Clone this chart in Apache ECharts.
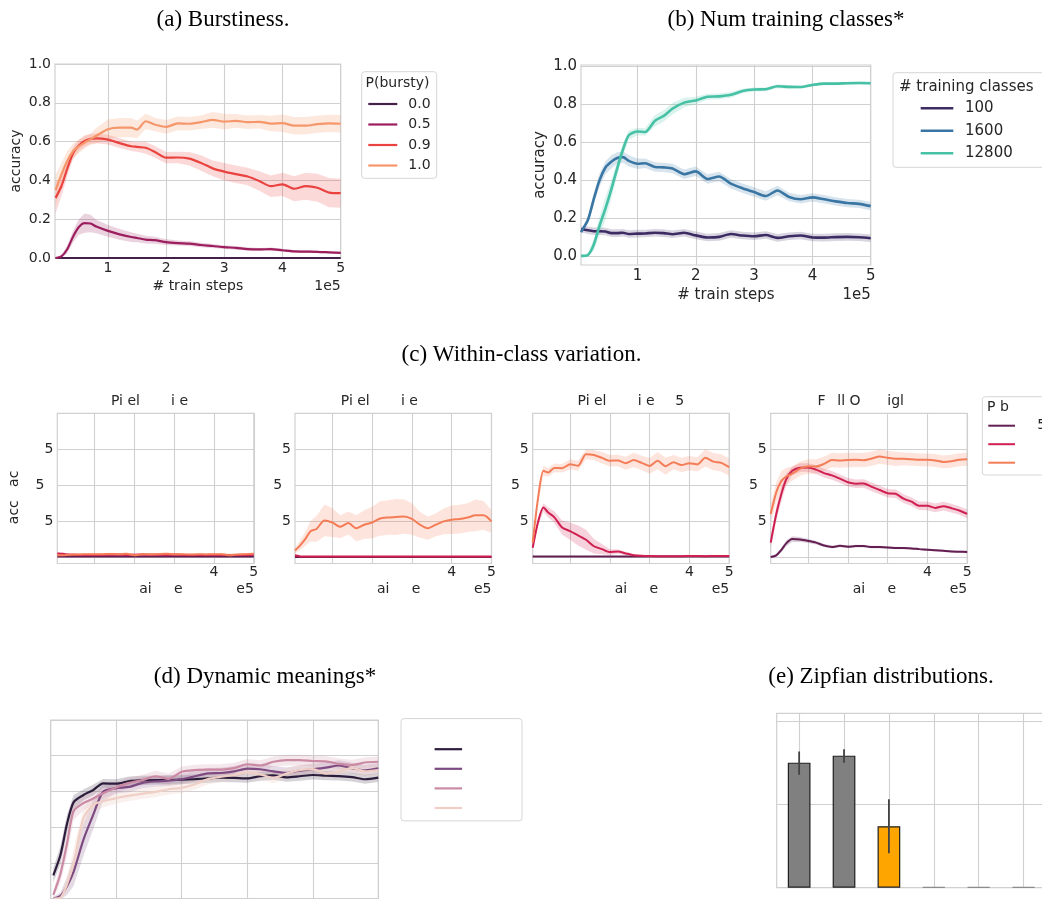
<!DOCTYPE html>
<html>
<head>
<meta charset="utf-8">
<title>In-context learning figure</title>
<script src="https://cdn.jsdelivr.net/npm/echarts@6.0.0/dist/echarts.min.js"></script>
<style>
html,body{margin:0;padding:0;background:#ffffff;}
#chart{width:1042px;height:899px;}
</style>
</head>
<body>
<div id="chart"></div>
<script>
// ================= DATA =================
// (a) Burstiness  (x in units of 1e5 train steps)
const aSteps = [0.1,0.2,0.3,0.4,0.5,0.6,0.7,0.8,1.0,1.2,1.4,1.5,1.65,1.8,2.0,2.2,2.4,2.6,2.8,3.0,3.2,3.4,3.6,3.8,4.0,4.2,4.4,4.6,4.8,5.0];
const aNames = ['0.0','0.5','0.9','1.0'];
const aBursty00 = [0,0,0,0,0,0,0,0,0,0,0,0,0,0,0,0,0,0,0,0,0,0,0,0,0,0,0,0,0,0];
const aBursty05 = [0.0,0.008,0.045,0.11,0.16,0.18,0.178,0.162,0.14,0.122,0.108,0.103,0.095,0.092,0.082,0.077,0.074,0.067,0.062,0.056,0.052,0.046,0.044,0.046,0.04,0.034,0.033,0.032,0.029,0.026];
const aBursty05Ci = [0.002,0.008,0.02,0.03,0.04,0.05,0.045,0.035,0.03,0.028,0.025,0.022,0.02,0.018,0.015,0.013,0.012,0.011,0.01,0.01,0.01,0.009,0.008,0.008,0.008,0.007,0.007,0.006,0.006,0.006];
const aBursty09 = [0.31,0.37,0.46,0.54,0.58,0.603,0.614,0.617,0.61,0.592,0.576,0.573,0.568,0.548,0.517,0.518,0.512,0.49,0.462,0.445,0.432,0.42,0.397,0.37,0.38,0.357,0.37,0.362,0.337,0.334];
const aBursty09Ci = [0.08,0.05,0.04,0.03,0.03,0.03,0.025,0.025,0.025,0.025,0.025,0.025,0.03,0.03,0.03,0.03,0.035,0.04,0.04,0.045,0.045,0.045,0.05,0.055,0.06,0.065,0.07,0.072,0.075,0.075];
const aBursty10 = [0.35,0.43,0.50,0.55,0.575,0.595,0.612,0.63,0.664,0.672,0.672,0.662,0.705,0.688,0.676,0.694,0.692,0.700,0.712,0.703,0.707,0.700,0.702,0.693,0.695,0.682,0.682,0.690,0.694,0.692];
const aBursty10Ci = [0.08,0.06,0.05,0.04,0.035,0.03,0.03,0.04,0.05,0.05,0.05,0.045,0.04,0.035,0.035,0.035,0.035,0.035,0.04,0.04,0.035,0.035,0.035,0.04,0.045,0.045,0.045,0.045,0.045,0.045];

// (b) Num training classes
const bSteps = [0.03,0.15,0.25,0.35,0.45,0.55,0.65,0.75,0.85,1.0,1.13,1.3,1.45,1.6,1.8,2.0,2.2,2.4,2.6,2.8,3.0,3.2,3.4,3.6,3.8,4.0,4.2,4.4,4.6,4.8,5.0];
const bNames = ['100','1600','12800'];
const bClasses100 = [0.14,0.135,0.13,0.13,0.128,0.12,0.12,0.122,0.115,0.117,0.118,0.122,0.12,0.114,0.122,0.108,0.097,0.1,0.115,0.107,0.103,0.11,0.095,0.103,0.107,0.097,0.096,0.099,0.1,0.098,0.093];
const bClasses100Ci = [0.015,0.02,0.02,0.02,0.02,0.02,0.02,0.02,0.02,0.02,0.02,0.02,0.02,0.02,0.02,0.02,0.02,0.02,0.02,0.02,0.02,0.02,0.02,0.02,0.02,0.02,0.02,0.02,0.02,0.02,0.02];
const bClasses1600 = [0.125,0.19,0.3,0.4,0.465,0.495,0.515,0.52,0.5,0.485,0.488,0.468,0.466,0.46,0.43,0.445,0.405,0.418,0.38,0.356,0.336,0.315,0.344,0.31,0.298,0.308,0.298,0.287,0.278,0.274,0.262];
const bClasses1600Ci = [0.01,0.02,0.03,0.035,0.035,0.035,0.03,0.03,0.03,0.028,0.025,0.025,0.025,0.025,0.025,0.025,0.025,0.025,0.025,0.025,0.025,0.025,0.025,0.022,0.022,0.022,0.022,0.022,0.022,0.022,0.022];
const bClasses12800 = [0.0,0.005,0.06,0.16,0.25,0.35,0.46,0.56,0.635,0.655,0.652,0.712,0.737,0.775,0.807,0.818,0.838,0.84,0.848,0.868,0.876,0.877,0.893,0.89,0.889,0.9,0.907,0.907,0.909,0.91,0.909];
const bClasses12800Ci = [0.003,0.01,0.03,0.05,0.06,0.05,0.04,0.03,0.025,0.02,0.02,0.03,0.03,0.03,0.025,0.02,0.015,0.015,0.015,0.012,0.01,0.01,0.01,0.01,0.008,0.008,0.008,0.008,0.008,0.008,0.008];

// (c) Within-class variation, four sub-panels, three series each
const cSteps = [0.06,0.2,0.33,0.45,0.6,0.8,1.0,1.2,1.4,1.6,1.8,2.0,2.2,2.4,2.6,2.8,3.0,3.2,3.4,3.6,3.8,4.0,4.2,4.4,4.6,4.8,5.0];
const cSeriesNames = ['c05','c09','c10'];
const cLegendLabels = ['\u2007 5',' ',' '];
const cTitles = ['Pi el       i e','Pi el       i e','Pi el       i e    \u20095','F\u2007\u2009ll O      igl'];
const c1Dark = [0.004,0.004,0.004,0.004,0.004,0.004,0.004,0.004,0.004,0.004,0.004,0.004,0.004,0.004,0.004,0.004,0.004,0.004,0.004,0.004,0.004,0.004,0.004,0.004,0.004,0.004,0.004];
const c1Crim = [0.025,0.022,0.018,0.016,0.015,0.015,0.015,0.015,0.016,0.016,0.015,0.016,0.017,0.016,0.016,0.015,0.016,0.015,0.015,0.015,0.015,0.015,0.015,0.015,0.015,0.015,0.016];
const c1Orng = [0.012,0.012,0.015,0.018,0.018,0.019,0.02,0.02,0.021,0.02,0.022,0.013,0.02,0.018,0.02,0.022,0.02,0.02,0.017,0.019,0.018,0.02,0.02,0.012,0.018,0.02,0.022];
const c1Ci = [0.008,0.008,0.008,0.008,0.008,0.008,0.008,0.008,0.008,0.008,0.008,0.008,0.008,0.008,0.008,0.008,0.008,0.008,0.008,0.008,0.008,0.008,0.008,0.008,0.008,0.008,0.008];
const c2Dark = [0.001,0.001,0.001,0.001,0.001,0.001,0.001,0.001,0.001,0.001,0.001,0.001,0.001,0.001,0.001,0.001,0.001,0.001,0.001,0.001,0.001,0.001,0.001,0.001,0.001,0.001,0.001];
const c2Crim = [0.012,0.004,0.003,0.003,0.003,0.003,0.003,0.003,0.003,0.003,0.003,0.003,0.003,0.003,0.003,0.003,0.003,0.003,0.003,0.003,0.003,0.003,0.003,0.003,0.003,0.003,0.003];
const c2Orng = [0.045,0.085,0.13,0.18,0.195,0.255,0.24,0.21,0.236,0.2,0.225,0.24,0.268,0.275,0.278,0.282,0.265,0.225,0.2,0.225,0.248,0.26,0.264,0.275,0.29,0.29,0.248];
const c2OrngCi = [0.02,0.035,0.05,0.07,0.09,0.11,0.1,0.08,0.08,0.09,0.1,0.11,0.12,0.12,0.125,0.12,0.11,0.09,0.08,0.08,0.09,0.1,0.1,0.1,0.11,0.1,0.08];
const c3Dark = [0.003,0.003,0.003,0.003,0.003,0.003,0.003,0.003,0.003,0.003,0.003,0.003,0.003,0.003,0.003,0.003,0.003,0.003,0.003,0.003,0.003,0.003,0.003,0.003,0.003,0.003,0.003];
const c3Crim = [0.065,0.25,0.345,0.31,0.278,0.205,0.18,0.15,0.12,0.075,0.055,0.035,0.038,0.025,0.013,0.009,0.007,0.006,0.006,0.006,0.006,0.008,0.007,0.006,0.007,0.008,0.008];
const c3CrimCi = [0.01,0.03,0.03,0.035,0.04,0.05,0.06,0.07,0.07,0.05,0.035,0.02,0.015,0.012,0.008,0.006,0.005,0.004,0.004,0.004,0.004,0.004,0.004,0.004,0.004,0.004,0.004];
const c3Orng = [0.1,0.42,0.6,0.588,0.62,0.618,0.645,0.635,0.715,0.71,0.69,0.67,0.672,0.653,0.675,0.655,0.634,0.67,0.632,0.66,0.64,0.653,0.645,0.69,0.664,0.655,0.625];
const c3OrngCi = [0.01,0.03,0.035,0.03,0.03,0.03,0.035,0.035,0.035,0.035,0.04,0.04,0.04,0.045,0.05,0.05,0.055,0.06,0.06,0.05,0.05,0.05,0.05,0.06,0.06,0.06,0.06];
const c4Dark = [0.0,0.012,0.05,0.095,0.125,0.122,0.112,0.1,0.08,0.07,0.078,0.072,0.076,0.076,0.069,0.069,0.067,0.063,0.062,0.06,0.055,0.051,0.047,0.043,0.039,0.037,0.035];
const c4DarkCi = [0.005,0.01,0.015,0.02,0.02,0.018,0.015,0.012,0.01,0.01,0.01,0.01,0.01,0.01,0.01,0.01,0.008,0.008,0.008,0.008,0.008,0.008,0.008,0.008,0.008,0.008,0.008];
const c4Crim = [0.1,0.3,0.44,0.54,0.6,0.622,0.623,0.608,0.584,0.568,0.545,0.52,0.51,0.512,0.488,0.466,0.444,0.44,0.406,0.385,0.356,0.356,0.342,0.354,0.34,0.324,0.3];
const c4CrimCi = [0.04,0.05,0.05,0.04,0.03,0.03,0.03,0.03,0.03,0.03,0.03,0.03,0.03,0.03,0.03,0.03,0.03,0.03,0.03,0.03,0.03,0.03,0.03,0.03,0.03,0.03,0.03];
const c4Orng = [0.3,0.45,0.53,0.56,0.58,0.615,0.63,0.63,0.648,0.675,0.672,0.675,0.676,0.674,0.685,0.699,0.69,0.683,0.683,0.68,0.676,0.676,0.672,0.662,0.666,0.677,0.68];
const c4OrngCi = [0.06,0.07,0.07,0.06,0.05,0.05,0.05,0.05,0.05,0.05,0.05,0.05,0.05,0.05,0.05,0.05,0.05,0.05,0.045,0.045,0.045,0.045,0.045,0.045,0.045,0.045,0.045];

// (d) Dynamic meanings
const dSteps = [0.04,0.15,0.25,0.35,0.5,0.65,0.8,1.0,1.2,1.4,1.6,1.8,2.0,2.2,2.4,2.6,2.8,3.0,3.2,3.4,3.6,3.8,4.0,4.2,4.4,4.6,4.8,5.0];
const dSeriesNames = ['d1','d2','d3','d4'];
const dMeaning1 = [0.13,0.245,0.42,0.54,0.58,0.608,0.645,0.643,0.658,0.662,0.664,0.664,0.666,0.669,0.673,0.677,0.676,0.673,0.685,0.69,0.679,0.685,0.692,0.688,0.686,0.68,0.668,0.677];
const dMeaning2 = [0.0,0.015,0.07,0.15,0.33,0.47,0.598,0.618,0.625,0.648,0.656,0.66,0.668,0.685,0.701,0.703,0.712,0.728,0.724,0.712,0.704,0.716,0.724,0.733,0.745,0.73,0.718,0.729];
const dMeaning3 = [0.02,0.14,0.31,0.49,0.535,0.56,0.59,0.622,0.648,0.663,0.685,0.67,0.71,0.72,0.722,0.722,0.73,0.752,0.745,0.766,0.775,0.775,0.77,0.768,0.754,0.748,0.762,0.766];
const dMeaning4 = [0.0,0.005,0.08,0.2,0.45,0.525,0.545,0.562,0.576,0.588,0.597,0.612,0.62,0.64,0.669,0.682,0.692,0.708,0.695,0.676,0.7,0.72,0.725,0.7,0.71,0.732,0.712,0.72];
const dMeaning1Ci = [0.04,0.05,0.05,0.04,0.03,0.03,0.025,0.025,0.025,0.025,0.025,0.025,0.025,0.025,0.025,0.025,0.025,0.025,0.025,0.025,0.025,0.025,0.025,0.025,0.025,0.025,0.025,0.025];
const dMeaning2Ci = [0.01,0.02,0.05,0.08,0.09,0.08,0.05,0.03,0.03,0.03,0.03,0.03,0.03,0.03,0.03,0.03,0.03,0.03,0.03,0.03,0.03,0.03,0.03,0.03,0.03,0.03,0.03,0.03];
const dMeaning3Ci = [0.02,0.05,0.07,0.05,0.04,0.035,0.03,0.03,0.03,0.03,0.03,0.03,0.03,0.03,0.03,0.03,0.03,0.03,0.03,0.03,0.03,0.03,0.03,0.03,0.03,0.03,0.03,0.03];
const dMeaning4Ci = [0.005,0.01,0.04,0.08,0.06,0.04,0.035,0.03,0.03,0.03,0.03,0.03,0.03,0.03,0.03,0.03,0.03,0.03,0.03,0.03,0.03,0.03,0.03,0.03,0.03,0.03,0.03,0.03];
const dLegendLabels = [' ',' ',' ',' '];

// (e) Zipfian distributions (bars + error bars)
const eValues = [0.753,0.795,0.37,0.003,0.003,0.003];
const eColors = ['#808080','#808080','#ffa500','#808080','#808080','#808080'];
const eEdges = ['#1e1e1e','#1e1e1e','#1e1e1e','#8c8c8c','#8c8c8c','#8c8c8c'];
const eErrLow = [0.68,0.753,0.207];
const eErrHigh = [0.82,0.834,0.532];

// tick values / labels
const aXTicks = [1,2,3,4,5], aXLabels = ['1','2','3','4','5'];
const aYTicks = [0,0.2,0.4,0.6,0.8,1.0], aYLabels = ['0.0','0.2','0.4','0.6','0.8','1.0'];
const cXTicks = [1,2,3,4,5], cXLabels = ['','','','4','5'];
const cYTicks = [0,0.25,0.5,0.75,1.0], cYLabels = ['','5','5\u2007','5',''];
const dXTicks = [0,1,2,3,4,5], dYTicks = [0,0.2,0.4,0.6,0.8,1.0];
const eXTicks = [0,1,2,3,4,5], eYTicks = [0,0.5,1.0];

// ================= STYLE / LAYOUT =================
const SANS = 'DejaVu Sans';
const SERIF = 'Liberation Serif';
const TEXT = '#262626';
const GRIDC = '#d0d0d0';
const aColors = ['#45204a','#9c1e5e','#e9423f','#f5966b'];
const bColors = ['#3d2c63','#3a76a3','#46c1a6'];
const cColors = ['#641f52','#d01f51','#f47c56'];
const dColors = ['#2d1d3c','#7d4a81','#cb8aa3','#efcfc6'];
const cLefts = [57.3, 295, 532.7, 770.7], cWidth = 196.5, cTop = 413.3, cHeight = 150.2;

function rgba(hex, a){const n=parseInt(hex.slice(1),16);return 'rgba('+((n>>16)&255)+','+((n>>8)&255)+','+(n&255)+','+a+')';}
function lookup(ticks, labels){return function(v){const i=ticks.findIndex(t=>Math.abs(t-v)<1e-9);return i<0?'':labels[i];};}

const grids=[], xAxes=[], yAxes=[], series=[], legends=[], graphics=[];

function axis(gi, min, max, ticks, labels, fs, margin, extra){
  const ax = {type:'value', gridIndex:gi, min:min, max:max,
    axisLine:{show:false}, axisTick:{show:false, customValues:ticks},
    splitLine:{show:true, lineStyle:{color:GRIDC, width:1.1}},
    minorTick:{show:false}, minorSplitLine:{show:false},
    axisLabel: labels ? {show:true, customValues:ticks, formatter:lookup(ticks,labels), color:TEXT, fontFamily:SANS, fontSize:fs, margin:margin, showMinLabel:true, showMaxLabel:true, hideOverlap:false}
                      : {show:false, customValues:ticks}};
  return Object.assign(ax, extra||{});
}
function grid(left, top, width, height){
  grids.push({left:left, top:top, width:width, height:height, show:true, borderColor:GRIDC, borderWidth:1.2, backgroundColor:'rgba(0,0,0,0)', containLabel:false, outerBoundsMode:'none'});
  return grids.length-1;
}
function addLine(gi, name, xs, ys, color, width){
  series.push({type:'line', name:name, xAxisIndex:gi, yAxisIndex:gi, data:xs.map((x,i)=>[x,ys[i]]), symbol:'none', smooth:0.25,
    lineStyle:{color:color, width:width}, itemStyle:{color:color}, emphasis:{disabled:true}, silent:true, z:3});
}
function addBand(gi, xs, ys, ci, color, alpha){
  const pts = xs.map((x,i)=>[x, ys[i]-ci[i], ys[i]+ci[i]]);
  series.push({type:'custom', xAxisIndex:gi, yAxisIndex:gi, silent:true, z:2, data:pts, encode:{x:0, y:[1,2]},
    renderItem:function(params, api){
      if (params.dataIndex !== 0) return null;
      const up = pts.map(p=>api.coord([p[0],p[2]]));
      const lo = pts.map(p=>api.coord([p[0],p[1]])).reverse();
      const cs = params.coordSys;
      return {type:'polygon', shape:{points:up.concat(lo)}, style:{fill:rgba(color,alpha)},
        clipPath:{type:'rect', shape:{x:cs.x, y:cs.y, width:cs.width, height:cs.height}}};
    }});
}
function text(x, y, str, font, opt){
  graphics.push(Object.assign({type:'text', x:x, y:y, silent:true, z:20,
    style:Object.assign({text:str, font:font, fill:TEXT, align:'left', verticalAlign:'middle'}, (opt&&opt.style)||{})}, (opt&&opt.el)||{}));
}
function box(x, y, w, h){
  graphics.push({type:'rect', silent:true, z:1, shape:{x:x, y:y, width:w, height:h, r:3}, style:{fill:'#ffffff', stroke:'#d6d6d6', lineWidth:1}});
}
function legendLine(w, t){ return 'path://M0,0L'+w+',0L'+w+','+t+'L0,'+t+'Z'; }

// ---------- (a) ----------
let g = grid(55, 64, 285.7, 194);
xAxes.push(axis(g, 0.09, 5, aXTicks, aXLabels, 14, 3.5, {name:'# train steps', nameLocation:'middle', nameGap:21, nameTextStyle:{fontFamily:SANS, fontSize:14, color:TEXT}}));
yAxes.push(axis(g, 0, 1, aYTicks, aYLabels, 14, 4, {name:'accuracy', nameLocation:'middle', nameGap:32, nameRotate:90, nameTextStyle:{fontFamily:SANS, fontSize:14, color:TEXT}}));
addLine(g, aNames[0], aSteps, aBursty00, aColors[0], 2.2);
addBand(g, aSteps, aBursty05, aBursty05Ci, aColors[1], 0.2);
addLine(g, aNames[1], aSteps, aBursty05, aColors[1], 2.2);
addBand(g, aSteps, aBursty09, aBursty09Ci, aColors[2], 0.2);
addLine(g, aNames[2], aSteps, aBursty09, aColors[2], 2.2);
addBand(g, aSteps, aBursty10, aBursty10Ci, aColors[3], 0.22);
addLine(g, aNames[3], aSteps, aBursty10, aColors[3], 2.2);
text(340.7, 285.9, '1e5', '14px "'+SANS+'"', {style:{align:'right'}});
box(361.7, 71.7, 75, 106.6);
text(365.5, 83.3, 'P(bursty)', '14px "'+SANS+'"');
legends.push({orient:'vertical', left:368.3, top:97, padding:0, itemWidth:29, itemHeight:14, itemGap:6.5, selectedMode:false,
  icon:legendLine(29,2.2), itemStyle:{borderWidth:0}, data:aNames,
  textStyle:{fontFamily:SANS, fontSize:14, color:TEXT, lineHeight:14, padding:[0,0,0,6]}});

// ---------- (b) ----------
g = grid(581, 65, 289.7, 200);
xAxes.push(axis(g, 0.03, 5, aXTicks, aXLabels, 15, 4, {name:'# train steps', nameLocation:'middle', nameGap:23, nameTextStyle:{fontFamily:SANS, fontSize:15, color:TEXT}}));
yAxes.push(axis(g, -0.048, 1.005, aYTicks, aYLabels, 15, 4, {name:'accuracy', nameLocation:'middle', nameGap:33, nameRotate:90, nameTextStyle:{fontFamily:SANS, fontSize:15, color:TEXT}}));
addBand(g, bSteps, bClasses100, bClasses100Ci, bColors[0], 0.2);
addLine(g, bNames[0], bSteps, bClasses100, bColors[0], 2.6);
addBand(g, bSteps, bClasses1600, bClasses1600Ci, bColors[1], 0.2);
addLine(g, bNames[1], bSteps, bClasses1600, bColors[1], 2.6);
addBand(g, bSteps, bClasses12800, bClasses12800Ci, bColors[2], 0.2);
addLine(g, bNames[2], bSteps, bClasses12800, bColors[2], 2.6);
text(870.7, 295.5, '1e5', '15px "'+SANS+'"', {style:{align:'right'}});
box(893, 72.7, 160, 94.6);
text(899, 86.7, '# training classes', '15px "'+SANS+'"');
legends.push({orient:'vertical', left:920.7, top:100.8, padding:0, itemWidth:32.6, itemHeight:15, itemGap:7.5, selectedMode:false,
  icon:legendLine(32.6,2.6), itemStyle:{borderWidth:0}, data:bNames,
  textStyle:{fontFamily:SANS, fontSize:15, color:TEXT, lineHeight:15, padding:[0,0,0,6.7]}});

// ---------- (c) ----------
const cData = [
  [[c1Dark,c1Ci],[c1Crim,c1Ci],[c1Orng,c1Ci]],
  [[c2Dark,null],[c2Crim,null],[c2Orng,c2OrngCi]],
  [[c3Dark,null],[c3Crim,c3CrimCi],[c3Orng,c3OrngCi]],
  [[c4Dark,c4DarkCi],[c4Crim,c4CrimCi],[c4Orng,c4OrngCi]]
];
const cTitleX = [149.5, 379.3, 630.8, 860.8];
for (let k=0;k<4;k++){
  g = grid(cLefts[k], cTop, cWidth, cHeight);
  xAxes.push(axis(g, 0.06, 5, cXTicks, cXLabels, 14, 2));
  yAxes.push(axis(g, -0.045, 1.0, cYTicks, cYLabels, 14, 4));
  for (let s=0;s<3;s++){
    const pair = cData[k][s];
    if (pair[1]) addBand(g, cSteps, pair[0], pair[1], cColors[s], 0.2);
    addLine(g, cSeriesNames[s], cSteps, pair[0], cColors[s], 2.0);
  }
  text(cTitleX[k], 401.8, cTitles[k], '14px "'+SANS+'"', {style:{align:'center'}});
  text(cLefts[k]+cWidth/2+5.4, 589.2, 'ai     e', '14px "'+SANS+'"', {style:{align:'center'}});
  text(cLefts[k]+cWidth, 589.2, 'e5', '14px "'+SANS+'"', {style:{align:'right'}});
}
text(14.6, 497.4, 'acc   ac', '14px "'+SANS+'"', {style:{align:'center'}, el:{rotation:Math.PI/2}});
box(982.3, 396.7, 100, 78.3);
text(987, 407.3, 'P b', '14px "'+SANS+'"');
legends.push({orient:'vertical', left:988.3, top:418.7, padding:0, itemWidth:26.7, itemHeight:14, itemGap:4.5, selectedMode:false,
  icon:legendLine(26.7,2.0), itemStyle:{borderWidth:0}, data:cSeriesNames,
  formatter:function(name){return cLegendLabels[cSeriesNames.indexOf(name)];},
  textStyle:{fontFamily:SANS, fontSize:14, color:TEXT, lineHeight:14, padding:[0,0,0,4]}});

// ---------- (d) ----------
g = grid(50.7, 720, 327.6, 178.5);
xAxes.push(axis(g, 0, 5, dXTicks, null));
yAxes.push(axis(g, 0, 1, dYTicks, null));
const dSet = [[dMeaning1,dMeaning1Ci],[dMeaning2,dMeaning2Ci],[dMeaning3,dMeaning3Ci],[dMeaning4,dMeaning4Ci]];
for (let s=0;s<4;s++){
  addBand(g, dSteps, dSet[s][0], dSet[s][1], dColors[s], s===3?0.3:0.2);
  addLine(g, dSeriesNames[s], dSteps, dSet[s][0], dColors[s], 2.2);
}
box(401, 718.6, 121, 102.3);
legends.push({orient:'vertical', left:434.6, top:742.2, padding:0, itemWidth:27.5, itemHeight:14, itemGap:5.6, selectedMode:false,
  icon:legendLine(27.5,2.2), itemStyle:{borderWidth:0}, data:dSeriesNames,
  formatter:function(name){return dLegendLabels[dSeriesNames.indexOf(name)];},
  textStyle:{fontFamily:SANS, fontSize:14, color:TEXT, lineHeight:14}});

// ---------- (e) ----------
g = grid(776.7, 713.3, 269.3, 174.4);
xAxes.push(axis(g, -0.5, 5.5, eXTicks, null));
yAxes.push(axis(g, 0, 1.05, eYTicks, null));
series.push({type:'bar', xAxisIndex:g, yAxisIndex:g, barWidth:22.7, silent:true, z:3,
  data:eValues.map((v,i)=>({value:[i,v], itemStyle:{color:eColors[i], borderColor:eEdges[i], borderWidth:1.2}}))});
series.push({type:'custom', xAxisIndex:g, yAxisIndex:g, silent:true, z:5,
  data:eErrLow.map((lo,i)=>[i, lo, eErrHigh[i]]), encode:{x:0, y:[1,2]},
  renderItem:function(params, api){
    const p1 = api.coord([api.value(0), api.value(1)]);
    const p2 = api.coord([api.value(0), api.value(2)]);
    return {type:'line', shape:{x1:p1[0], y1:p1[1], x2:p2[0], y2:p2[1]}, style:{stroke:'#424242', lineWidth:1.8}};
  }});

// ---------- panel titles ----------
const serif = '23px "'+SERIF+'"';
text(223, 19.5, '(a) Burstiness.', serif, {style:{align:'center', fill:'#000'}});
text(786, 19.5, '(b) Num training classes*', serif, {style:{align:'center', fill:'#000'}});
text(521.5, 354.5, '(c) Within-class variation.', serif, {style:{align:'center', fill:'#000'}});
text(265, 676.5, '(d) Dynamic meanings*', serif, {style:{align:'center', fill:'#000'}});
text(881, 676.5, '(e) Zipfian distributions.', serif, {style:{align:'center', fill:'#000'}});

const chart = echarts.init(document.getElementById('chart'), null, {renderer:'canvas'});
chart.setOption({
  animation:false,
  backgroundColor:'#ffffff',
  textStyle:{fontFamily:SANS},
  grid:grids, xAxis:xAxes, yAxis:yAxes, legend:legends, series:series,
  graphic:{elements:graphics}
});
</script>
</body>
</html>
